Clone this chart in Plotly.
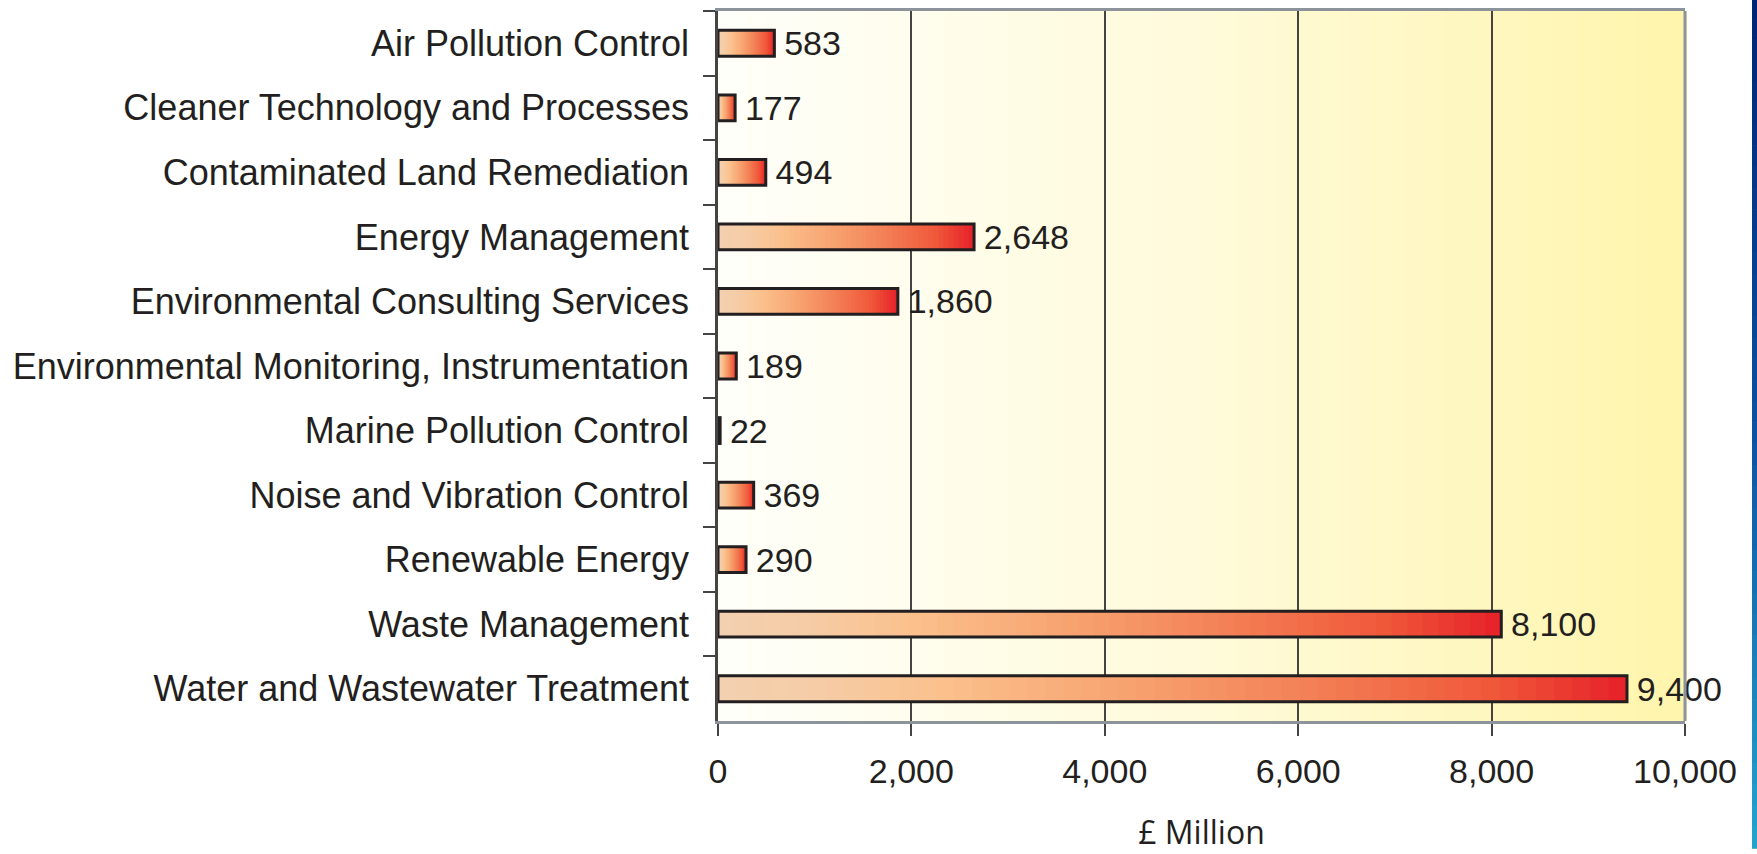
import plotly.graph_objects as go

categories = [
    "Air Pollution Control",
    "Cleaner Technology and Processes",
    "Contaminated Land Remediation",
    "Energy Management",
    "Environmental Consulting Services",
    "Environmental Monitoring, Instrumentation",
    "Marine Pollution Control",
    "Noise and Vibration Control",
    "Renewable Energy",
    "Waste Management",
    "Water and Wastewater Treatment",
]
values = [583, 177, 494, 2648, 1860, 189, 22, 369, 290, 8100, 9400]
x_ticks = [0, 2000, 4000, 6000, 8000, 10000]
x_title = "£ Million"

# ---- styling helpers ----
def lerp_stops(stops, t):
    for (p0, c0), (p1, c1) in zip(stops[:-1], stops[1:]):
        if p0 <= t <= p1:
            f = 0 if p1 == p0 else (t - p0) / (p1 - p0)
            c = [round(a + (b - a) * f) for a, b in zip(c0, c1)]
            return "rgb(%d,%d,%d)" % tuple(c)
    c = stops[-1][1]
    return "rgb(%d,%d,%d)" % tuple(c)

bar_stops = [
    (0.0, (243, 208, 176)),
    (0.12, (246, 204, 165)),
    (0.25, (251, 192, 140)),
    (0.45, (247, 163, 112)),
    (0.65, (243, 128, 86)),
    (0.85, (240, 88, 58)),
    (1.0, (230, 32, 40)),
]
bg_stops = [
    (0.0, (255, 255, 250)),
    (0.5, (255, 250, 218)),
    (1.0, (255, 245, 172)),
]
stripe_stops = [
    (0.0, (0, 36, 115)),
    (0.5, (12, 80, 160)),
    (1.0, (35, 165, 205)),
]

fig = go.Figure()

N = 50
for k in range(N):
    frac = (N - k) / N
    fig.add_trace(go.Bar(
        y=categories,
        x=[v * frac for v in values],
        orientation="h",
        marker=dict(color=lerp_stops(bar_stops, (N - k - 0.5) / N), line=dict(width=0)),
        hoverinfo="skip",
        showlegend=False,
    ))

fig.add_trace(go.Bar(
    y=categories,
    x=values,
    orientation="h",
    marker=dict(color="rgba(0,0,0,0)", line=dict(color="#231f20", width=3)),
    texttemplate="\u2009%{x:,}",
    textposition="outside",
    constraintext="none",
    cliponaxis=False,
    textfont=dict(family="Liberation Sans, Arial", size=34, color="#231f20"),
    showlegend=False,
))

shapes = []
M = 80
for i in range(M):
    shapes.append(dict(
        type="rect", xref="paper", yref="paper",
        x0=i / M, x1=(i + 1) / M + 0.002, y0=0, y1=1,
        fillcolor=lerp_stops(bg_stops, (i + 0.5) / M),
        line=dict(width=0), layer="below",
    ))
# right border
shapes.append(dict(type="line", xref="paper", yref="paper", x0=1, x1=1, y0=0, y1=1,
                   line=dict(color="#8c939b", width=3), layer="above"))
# blue stripe at right edge of page
S = 40
y_bot, y_top = -0.18, 1.02
for i in range(S):
    shapes.append(dict(
        type="rect", xref="paper", yref="paper",
        x0=1.0693, x1=1.08,
        y0=y_top - (i + 1) * (y_top - y_bot) / S, y1=y_top - i * (y_top - y_bot) / S + 0.001,
        fillcolor=lerp_stops(stripe_stops, (i + 0.5) / S),
        line=dict(width=0), layer="above",
    ))

fig.update_layout(
    width=1757, height=854,
    margin=dict(l=718, r=72, t=8, b=128),
    barmode="overlay",
    bargap=0.6,
    plot_bgcolor="white",
    paper_bgcolor="white",
    shapes=shapes,
    font=dict(family="Liberation Sans, Arial", color="#231f20"),
)
fig.update_xaxes(
    range=[0, 10000],
    tickvals=x_ticks,
    tickformat=",",
    ticks="outside", ticklen=12, tickwidth=2, tickcolor="#444",
    ticklabelstandoff=6,
    showgrid=True, gridcolor="#444", gridwidth=1.5,
    showline=True, linecolor="#8c939b", linewidth=2.5, mirror=True,
    zeroline=False,
    tickfont=dict(family="Liberation Sans, Arial", size=34, color="#231f20"),
    title=dict(text=x_title, font=dict(family="Open Sans", size=32, color="#231f20"), standoff=34),
)
fig.update_yaxes(
    autorange="reversed",
    tickson="boundaries",
    ticks="outside", ticklen=12, tickwidth=2, tickcolor="#444",
    ticklabelstandoff=19,
    showgrid=False,
    showline=True, linecolor="#444", linewidth=2.5,
    tickfont=dict(family="Liberation Sans, Arial", size=36, color="#231f20"),
)

fig.write_html("out.html", config={"displayModeBar": False},
               post_script="document.body.style.margin='0';document.body.style.overflow='hidden';")
